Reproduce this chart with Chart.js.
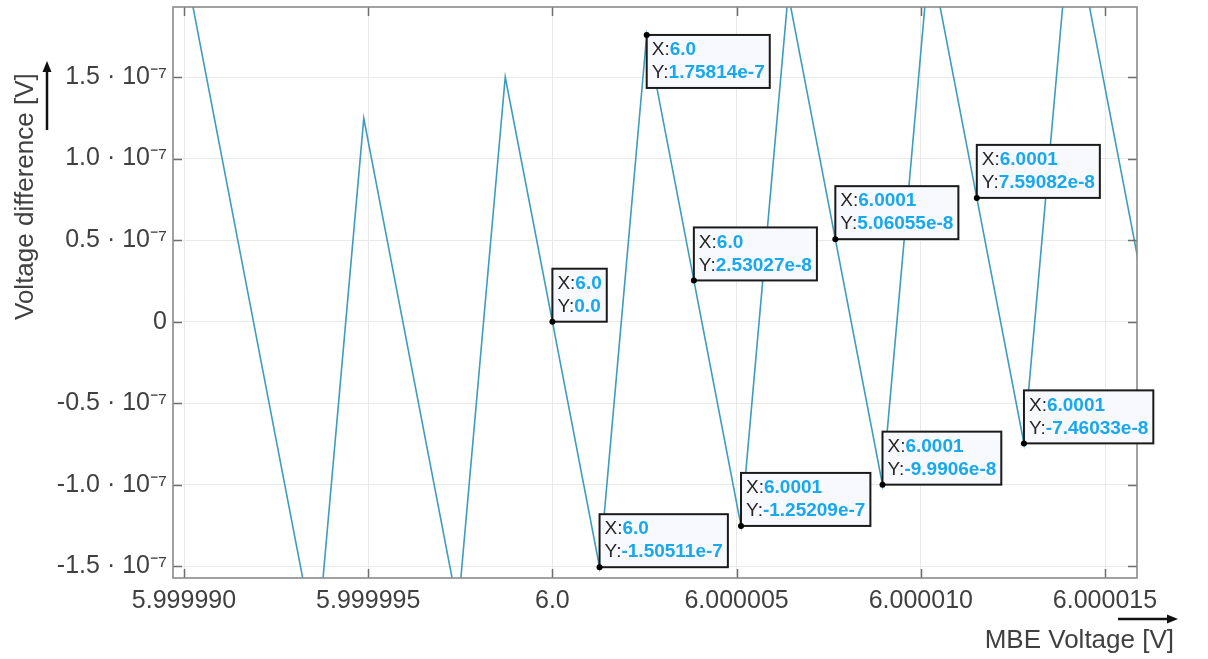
<!DOCTYPE html>
<html><head><meta charset="utf-8">
<script src="https://cdn.jsdelivr.net/npm/chart.js@4/dist/chart.umd.min.js"></script>
<style>html,body{margin:0;padding:0;background:#fff}canvas{display:block}</style>
</head><body>
<canvas id="c" width="1208" height="659"></canvas>
<script>
// ---- data ----
const mbeVoltage = [
  5.99998848, 5.99998976, 5.99999104, 5.99999232, 5.99999360, 5.99999488,
  5.99999616, 5.99999744, 5.99999872, 6.00000000, 6.00000128, 6.00000256,
  6.00000384, 6.00000512, 6.00000640, 6.00000768, 6.00000896, 6.00001024,
  6.00001152, 6.00001280, 6.00001408, 6.00001536, 6.00001664
];
const voltageDiff = [
  -7.64e-8, 2.499e-7, 9.94e-8, -5.11e-8, -2.016e-7, 1.247e-7,
  -2.58e-8, -1.763e-7, 1.5e-7, 0.0, -1.50511e-7, 1.75814e-7,
  2.53027e-8, -1.25209e-7, 2.011e-7, 5.06055e-8, -9.9906e-8, 2.264e-7,
  7.59082e-8, -7.46033e-8, 2.517e-7, 1.012e-7, -4.93e-8
];
const xTickValues = [5.99999, 5.999995, 6.0, 6.000005, 6.00001, 6.000015];
const xTickLabels = ['5.999990', '5.999995', '6.0', '6.000005', '6.000010', '6.000015'];
const yTickValues = [-1.5e-7, -1.0e-7, -0.5e-7, 0, 0.5e-7, 1.0e-7, 1.5e-7];
const yTickLabels = ['-1.5 · 10⁻⁷', '-1.0 · 10⁻⁷', '-0.5 · 10⁻⁷', '0', '0.5 · 10⁻⁷', '1.0 · 10⁻⁷', '1.5 · 10⁻⁷'];
const xTitle = 'MBE Voltage [V]';
const yTitle = 'Voltage difference [V]';
const tipIndex = [9, 10, 11, 12, 13, 15, 16, 18, 19];
const tipXText = ['6.0', '6.0', '6.0', '6.0', '6.0001', '6.0001', '6.0001', '6.0001', '6.0001'];
const tipYText = ['0.0', '-1.50511e-7', '1.75814e-7', '2.53027e-8', '-1.25209e-7', '5.06055e-8', '-9.9906e-8', '7.59082e-8', '-7.46033e-8'];

const FONT = '"Liberation Sans", Arial, sans-serif';
const X_MIN = 5.9999897014, X_MAX = 6.0000158686;
const Y_MIN = -1.5714e-7, Y_MAX = 1.9295e-7;

function arrow(ctx, x1, y1, x2, y2) {
  const ang = Math.atan2(y2 - y1, x2 - x1), L = 11, W = 4.5;
  const bx = x2 - L * Math.cos(ang), by = y2 - L * Math.sin(ang);
  ctx.save();
  ctx.strokeStyle = '#111'; ctx.fillStyle = '#111'; ctx.lineWidth = 2.5;
  ctx.beginPath(); ctx.moveTo(x1, y1); ctx.lineTo(bx, by); ctx.stroke();
  ctx.beginPath();
  ctx.moveTo(x2, y2);
  ctx.lineTo(bx + W * Math.sin(ang), by - W * Math.cos(ang));
  ctx.lineTo(bx - W * Math.sin(ang), by + W * Math.cos(ang));
  ctx.closePath(); ctx.fill();
  ctx.restore();
}

const framePlugin = {
  id: 'frame',
  afterDatasetsDraw(chart) {
    const {ctx, chartArea: a, scales} = chart;
    ctx.save();
    ctx.strokeStyle = '#6e6e6e'; ctx.lineWidth = 1.5;
    const T = 9;
    ctx.beginPath();
    xTickValues.forEach(v => {
      const px = Math.round(scales.x.getPixelForValue(v)) + 0.5;
      ctx.moveTo(px, a.bottom); ctx.lineTo(px, a.bottom - T);
      ctx.moveTo(px, a.top); ctx.lineTo(px, a.top + T);
    });
    yTickValues.forEach(v => {
      const py = Math.round(scales.y.getPixelForValue(v)) + 0.5;
      ctx.moveTo(a.left, py); ctx.lineTo(a.left + T, py);
      ctx.moveTo(a.right, py); ctx.lineTo(a.right - T, py);
    });
    ctx.stroke();
    ctx.strokeStyle = '#8a8a8a'; ctx.lineWidth = 1.6;
    ctx.strokeRect(a.left, a.top, a.right - a.left, a.bottom - a.top);
    ctx.restore();
  },
  afterDraw(chart) {
    const {ctx, chartArea: a, scales} = chart;
    ctx.save();
    // axis titles
    ctx.fillStyle = '#404040';
    ctx.font = '26px ' + FONT;
    ctx.textAlign = 'right'; ctx.textBaseline = 'alphabetic';
    ctx.fillText(xTitle, 1174, 648);
    ctx.save();
    ctx.translate(33, 320); ctx.rotate(-Math.PI / 2);
    ctx.textAlign = 'left';
    ctx.fillText(yTitle, 0, 0);
    ctx.restore();
    arrow(ctx, 47, 130, 47, 61);
    arrow(ctx, 1118, 619, 1178, 619);
    // data tips
    const H = 53;
    tipIndex.forEach((idx, k) => {
      const px = scales.x.getPixelForValue(mbeVoltage[idx]);
      const py = scales.y.getPixelForValue(voltageDiff[idx]);
      ctx.font = '19px ' + FONT;
      const wX = ctx.measureText('X:').width, wY = ctx.measureText('Y:').width;
      ctx.font = 'bold 19px ' + FONT;
      const w1 = wX + ctx.measureText(tipXText[k]).width;
      const w2 = wY + ctx.measureText(tipYText[k]).width;
      const W = Math.max(w1, w2) + 10;
      const top = (py - H < a.top) ? py : py - H;
      ctx.fillStyle = '#f8f8ff';
      ctx.fillRect(px, top, W, H);
      ctx.strokeStyle = '#1a1a1a'; ctx.lineWidth = 2;
      ctx.strokeRect(px, top, W, H);
      ctx.textAlign = 'left'; ctx.textBaseline = 'middle';
      ctx.font = '19px ' + FONT; ctx.fillStyle = '#262626';
      ctx.fillText('X:', px + 5, top + 15);
      ctx.fillText('Y:', px + 5, top + 38);
      ctx.font = 'bold 19px ' + FONT; ctx.fillStyle = '#18a8ec';
      ctx.fillText(tipXText[k], px + 5 + wX, top + 15);
      ctx.fillText(tipYText[k], px + 5 + wY, top + 38);
      ctx.fillStyle = '#000';
      ctx.beginPath(); ctx.arc(px, py, 3, 0, Math.PI * 2); ctx.fill();
    });
    ctx.restore();
  }
};

new Chart(document.getElementById('c'), {
  type: 'scatter',
  data: {
    datasets: [{
      data: mbeVoltage.map((x, i) => ({x: x, y: voltageDiff[i]})),
      showLine: true,
      borderColor: '#3d9dbd',
      borderWidth: 1.6,
      pointRadius: 0,
      tension: 0,
      fill: false
    }]
  },
  options: {
    responsive: false,
    devicePixelRatio: 1,
    animation: false,
    layout: {padding: {left: 0, right: 71, top: 7, bottom: 0}},
    plugins: {legend: {display: false}, tooltip: {enabled: false}},
    scales: {
      x: {
        type: 'linear', min: X_MIN, max: X_MAX,
        afterBuildTicks: s => { s.ticks = xTickValues.map(v => ({value: v})); },
        afterFit: s => { s.height = 81; s.paddingLeft = 0; s.paddingRight = 0; },
        grid: {color: '#e9e9e9', lineWidth: 1, drawTicks: false},
        border: {display: false},
        ticks: {
          autoSkip: false, maxRotation: 0, padding: 8,
          color: '#404040', font: {family: FONT, size: 25},
          callback: (v, i) => xTickLabels[i]
        }
      },
      y: {
        type: 'linear', min: Y_MIN, max: Y_MAX,
        afterBuildTicks: s => { s.ticks = yTickValues.map(v => ({value: v})); },
        afterFit: s => { s.width = 173; s.paddingTop = 0; s.paddingBottom = 0; },
        grid: {color: '#e9e9e9', lineWidth: 1, drawTicks: false},
        border: {display: false},
        ticks: {
          autoSkip: false, padding: 6,
          color: '#404040', font: {family: FONT, size: 25},
          callback: (v, i) => yTickLabels[i]
        }
      }
    }
  },
  plugins: [framePlugin]
});
</script>
</body></html>
